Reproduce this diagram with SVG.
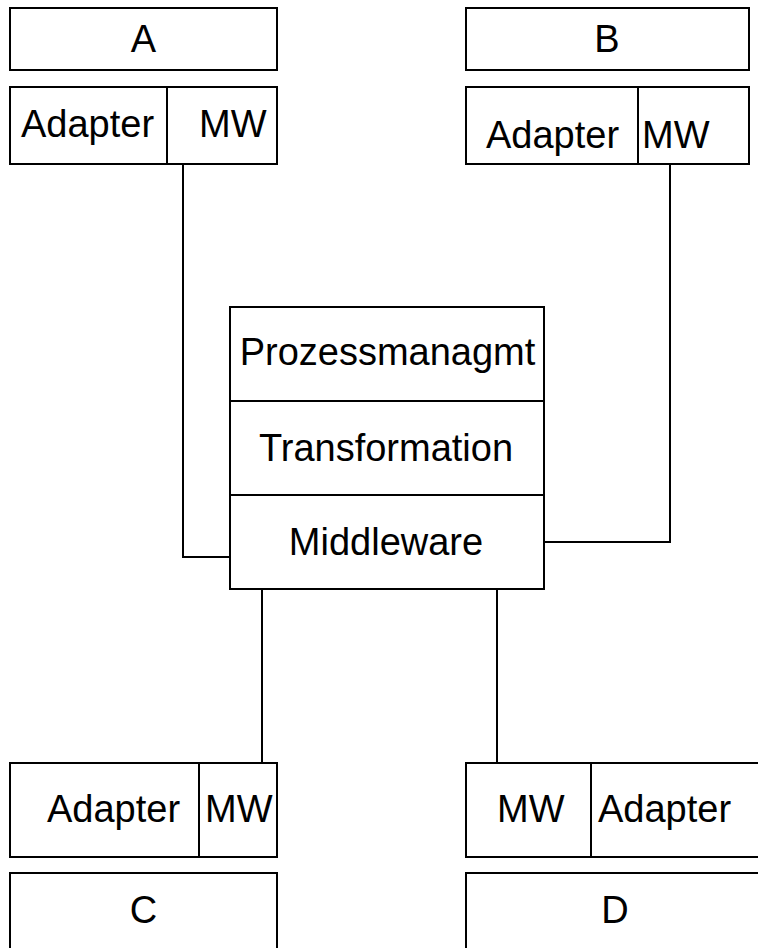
<svg xmlns="http://www.w3.org/2000/svg" width="758" height="948" viewBox="0 0 758 948">
<style>
.box{fill:#fff;stroke:#000;stroke-width:2}
.div{fill:none;stroke:#000;stroke-width:2}
.con{fill:none;stroke:#000;stroke-width:2}
text{font-family:"Liberation Sans",Arial,sans-serif;font-size:38px;fill:#000}
.c{text-anchor:middle}
</style>
<rect width="758" height="948" fill="#fff"/>
<g id="connectors">
<polyline class="con" points="183,164 183,557 230,557"/>
<polyline class="con" points="670,164 670,542 544,542"/>
<line class="con" x1="262" y1="589" x2="262" y2="763"/>
<line class="con" x1="497" y1="589" x2="497" y2="763"/>
</g>
<g id="A">
<rect class="box" x="10" y="8" width="267" height="62"/>
<text class="c" x="143.5" y="52">A</text>
</g>
<g id="A-adapter">
<rect class="box" x="10" y="87" width="267" height="77"/>
<line class="div" x1="167" y1="87" x2="167" y2="164"/>
<text x="21" y="137">Adapter</text>
<text x="199" y="137">MW</text>
</g>
<g id="B">
<rect class="box" x="466" y="8" width="283" height="62"/>
<text class="c" x="607" y="52">B</text>
</g>
<g id="B-adapter">
<rect class="box" x="466" y="87" width="283" height="77"/>
<line class="div" x1="638" y1="87" x2="638" y2="164"/>
<text x="486" y="148">Adapter</text>
<text x="642" y="148">MW</text>
</g>
<g id="central">
<rect class="box" x="230" y="307" width="314" height="282"/>
<line class="div" x1="230" y1="401" x2="544" y2="401"/>
<line class="div" x1="230" y1="495" x2="544" y2="495"/>
<text class="c" x="387.5" y="365">Prozessmanagmt</text>
<text class="c" x="386" y="461">Transformation</text>
<text class="c" x="386" y="555">Middleware</text>
</g>
<g id="C-adapter">
<rect class="box" x="10" y="763" width="267" height="94"/>
<line class="div" x1="199" y1="763" x2="199" y2="857"/>
<text x="47" y="822">Adapter</text>
<text x="205" y="822">MW</text>
</g>
<g id="C">
<rect class="box" x="10" y="873" width="267" height="90"/>
<text class="c" x="143.5" y="923">C</text>
</g>
<g id="D-adapter">
<rect class="box" x="466" y="763" width="300" height="94"/>
<line class="div" x1="591" y1="763" x2="591" y2="857"/>
<text x="497" y="822">MW</text>
<text x="598" y="822">Adapter</text>
</g>
<g id="D">
<rect class="box" x="466" y="873" width="300" height="90"/>
<text class="c" x="615" y="923">D</text>
</g>
</svg>
